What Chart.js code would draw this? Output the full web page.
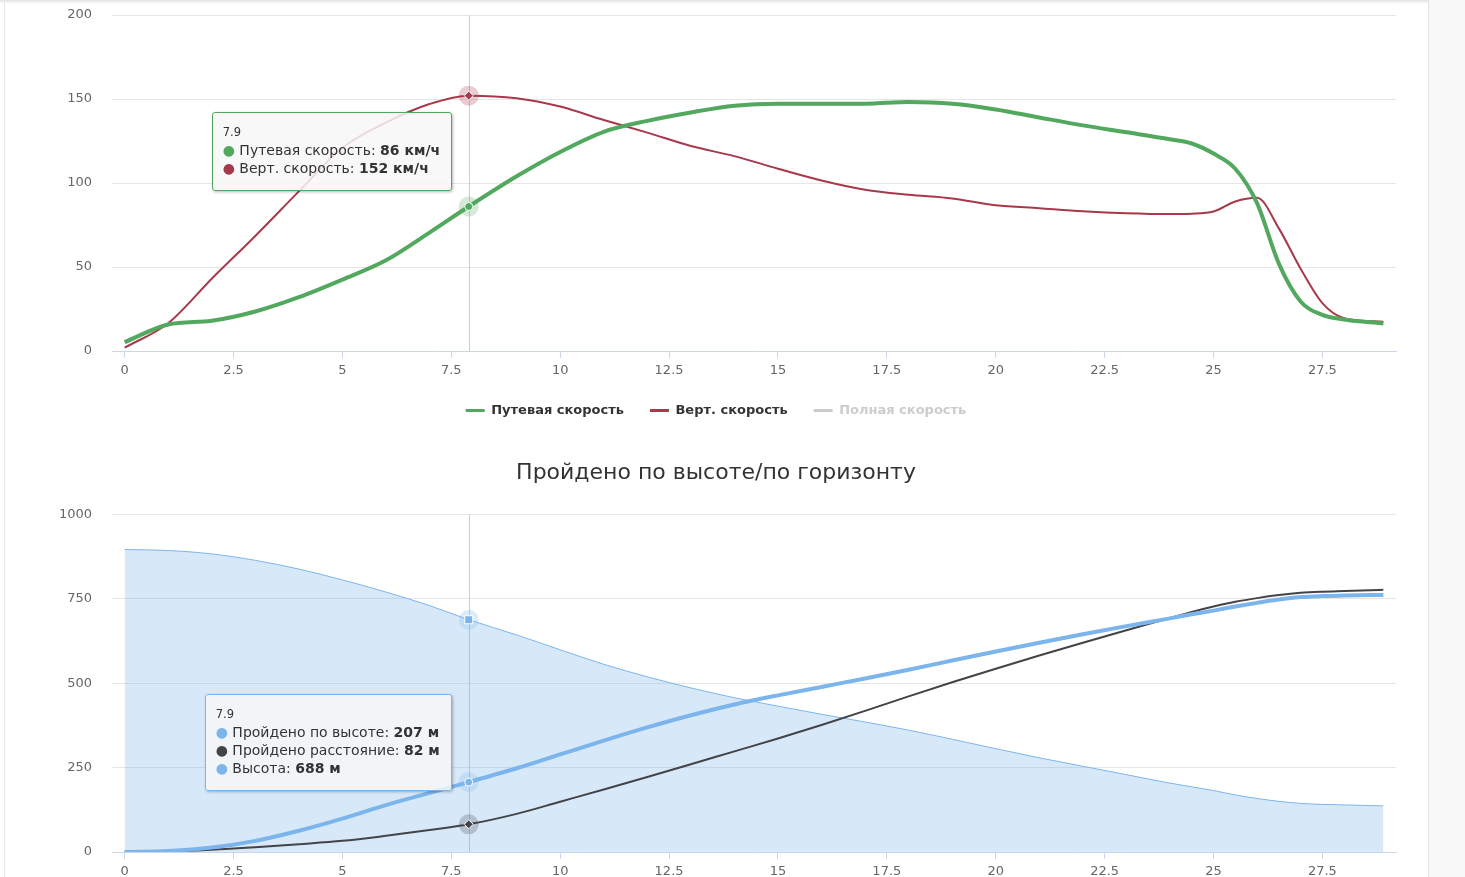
<!DOCTYPE html>
<html>
<head>
<meta charset="utf-8">
<script src="https://cdn.jsdelivr.net/npm/chart.js@4/dist/chart.umd.min.js"></script>
<style>
html, body { margin: 0; padding: 0; background: #fff; width: 1465px; height: 877px; overflow: hidden }
.topshade { position: absolute; left: 0; top: 0; width: 1428px; height: 4px; background: linear-gradient(#e2e2e2, #ffffff) }
.leftline { position: absolute; left: 4px; top: 0; width: 1px; height: 877px; background: #e9e9e9 }
.side { position: absolute; left: 1428px; top: 0; width: 37px; height: 877px; background: #f8f8f8; border-left: 1px solid #e2e2e2 }
.box { position: absolute; left: 0; width: 1428px }
#speedBox { top: 0; height: 445px }
#heightBox { top: 445px; height: 440px }
.tip { position: absolute; display: none; pointer-events: none; background: rgba(247,247,247,0.85);
  border: 1px solid #7cb5ec; border-radius: 3px; padding: 10px 11px 13px 10px; color: #333333;
  font: 14px "DejaVu Sans", sans-serif; line-height: 18px; white-space: nowrap;
  box-shadow: 1px 1px 3px rgba(0,0,0,0.28) }
.tip .hd { font-size: 11.5px; line-height: 18px }
</style>
</head>
<body>
<div class="topshade"></div>
<div class="leftline"></div>
<div class="side"></div>
<div class="box" id="speedBox"><canvas id="speed" width="1428" height="445"></canvas></div>
<div class="box" id="heightBox"><canvas id="height" width="1428" height="440"></canvas></div>
<script>
// ########## data
const seconds = [0, 1, 2, 3, 4, 5, 6, 7, 7.9, 9, 10, 11, 12, 13, 14, 15, 16, 17, 18, 19, 20, 21, 22, 23, 24, 24.5, 25, 25.5, 26, 26.5, 27, 27.5, 28, 28.9]

// км/ч
const groundSpeed = [5.3, 15.8, 18, 23.5, 32, 42.5, 54, 70.5, 86, 104, 118.5, 130.5, 137, 142, 146, 147.2, 147.2, 147.2, 148.2, 147.2, 143.8, 139, 134.3, 130.2, 126, 123.5, 117.5, 108.5, 88, 52, 29.5, 21.5, 18.8, 16.4]
const vertSpeed = [2, 16.5, 43, 68.5, 95, 121, 136, 147, 152, 150.5, 145.5, 137.5, 130, 122, 116, 108.5, 101.5, 96, 93, 90.8, 86.8, 85, 83.2, 82, 81.5, 81.7, 83, 89, 91.2, 73, 49, 28.5, 19.5, 17.4]
const fullSpeed = []

// м
const climbed = [0, 3, 13, 33, 63, 99, 139, 175, 207, 248, 289, 330, 369, 405, 437, 464, 489, 514, 540, 567, 594, 620, 645, 669, 692, 704, 715, 727, 738, 748, 755, 758, 759.5, 761.6]
const distance = [0, 2, 6.5, 14, 23, 33, 48, 65, 82, 113, 149, 185, 222, 260, 298, 336, 376, 418, 461, 503, 543, 582, 620, 657, 693, 711, 727, 741, 752, 761, 767.6, 771, 773, 776.5]
const altitude = [896, 893, 883, 864, 838, 806, 770, 730, 688, 643, 599, 556, 519, 486, 457, 432, 408, 385, 361, 334, 306, 279, 254, 229, 204, 193, 182, 169, 158.5, 150, 144, 141, 139.5, 136.5]

const xTicks = [0, 2.5, 5, 7.5, 10, 12.5, 15, 17.5, 20, 22.5, 25, 27.5]
const speedTicks = [0, 50, 100, 150, 200]
const heightTicks = [0, 250, 500, 750, 1000]
const hoverSecond = 7.9

const font = "'DejaVu Sans', sans-serif"

function pts(ys) {
  return ys.map((y, i) => ({ x: seconds[i], y: y }))
}

// ########## markers
function drawMark(ctx, style, x, y, color) {
  ctx.fillStyle = color
  ctx.strokeStyle = "#ffffff"
  ctx.lineWidth = 1
  ctx.beginPath()
  if (style === "diamond") {
    ctx.moveTo(x, y - 4.5); ctx.lineTo(x + 4.5, y); ctx.lineTo(x, y + 4.5); ctx.lineTo(x - 4.5, y); ctx.closePath()
  } else if (style === "square") {
    ctx.rect(x - 4, y - 4, 8, 8)
  } else {
    ctx.arc(x, y, 4, 0, Math.PI * 2)
  }
  ctx.fill()
  ctx.stroke()
}

const hoverMarks = {
  id: "hoverMarks",
  beforeDatasetsDraw(chart) {
    let act = chart.getActiveElements()
    if (!act.length) return
    let ctx = chart.ctx, area = chart.chartArea
    let x = Math.round(act[0].element.x) + 0.5
    ctx.save()
    ctx.strokeStyle = "#cccccc"
    ctx.lineWidth = 1
    ctx.beginPath()
    ctx.moveTo(x, area.top)
    ctx.lineTo(x, area.bottom)
    ctx.stroke()
    ctx.restore()
  },
  afterDatasetsDraw(chart) {
    let ctx = chart.ctx
    ctx.save()
    chart.getActiveElements().forEach(a => {
      let ds = chart.data.datasets[a.datasetIndex]
      let el = a.element
      ctx.fillStyle = ds.haloColor
      ctx.beginPath()
      ctx.arc(el.x, el.y, 10, 0, Math.PI * 2)
      ctx.fill()
      drawMark(ctx, ds.markStyle, el.x, el.y, ds.tipColor)
    })
    ctx.restore()
  }
}

// ########## tooltip (html, so the values can be bold)
function externalTip(units, borderColor) {
  return function(context) {
    let chart = context.chart
    let tip = context.tooltip
    let box = chart.canvas.parentNode
    let el = box.querySelector(".tip")
    if (!el) {
      el = document.createElement("div")
      el.className = "tip"
      box.appendChild(el)
    }
    if (tip.opacity === 0 || !tip.dataPoints || !tip.dataPoints.length) {
      el.style.display = "none"
      return
    }
    let list = tip.dataPoints.slice().sort((a, b) => a.datasetIndex - b.datasetIndex)
    let html = '<div class="hd">' + list[0].parsed.x + "</div>"
    list.forEach(p => {
      html += '<div><span style="color:' + p.dataset.tipColor + '">\u25CF</span> ' + p.dataset.label +
        ": <b>" + Math.round(p.parsed.y) + " " + units + "</b></div>"
    })
    el.innerHTML = html
    el.style.display = "block"
    el.style.borderColor = borderColor
    el.style.left = (tip.caretX - 17 - el.offsetWidth) + "px"
    el.style.top = (tip.caretY - el.offsetHeight / 2) + "px"
  }
}

function xScale() {
  return {
    type: "linear",
    min: -0.29,
    max: 29.19,
    afterBuildTicks: s => { s.ticks = xTicks.map(v => ({ value: v })) },
    afterFit: s => { s.height = 27 },
    ticks: { color: "#666666", font: { family: font, size: 13 }, padding: 5, maxRotation: 0, autoSkip: false, callback: v => String(v) },
    grid: { drawOnChartArea: false, drawTicks: true, tickLength: 7, color: "#ccd6eb", lineWidth: 1 },
    border: { color: "#ccd6eb", width: 1 }
  }
}

function yScale(ticks) {
  return {
    min: ticks[0],
    max: ticks[ticks.length - 1],
    afterBuildTicks: s => { s.ticks = ticks.map(v => ({ value: v })) },
    // label padding would otherwise be added above and below the plot
    afterFit: s => { s.width = 76; s.paddingTop = 8; s.paddingBottom = 8 },
    ticks: { color: "#666666", font: { family: font, size: 13 }, padding: 20, callback: v => String(v) },
    grid: { color: "#e6e6e6", lineWidth: 1, drawTicks: false },
    border: { display: false }
  }
}

function activate(chart, datasets) {
  let idx = seconds.indexOf(hoverSecond)
  let act = datasets.map(d => ({ datasetIndex: d, index: idx }))
  chart.setActiveElements(act)
  chart.tooltip.setActiveElements(act, { x: 0, y: 0 })
  chart.update()
}

Chart.defaults.font.family = font

//########## speed chart
const speedChart = new Chart(document.getElementById("speed"), {
  type: "line",
  data: {
    datasets: [
      { label: "Путевая скорость", data: pts(groundSpeed), borderColor: "#52a85e", borderWidth: 4,
        tipColor: "#52a85e", haloColor: "rgba(82,168,94,0.25)", markStyle: "circle" },
      { label: "Верт. скорость", data: pts(vertSpeed), borderColor: "#a6394b", borderWidth: 2,
        tipColor: "#a6394b", haloColor: "rgba(166,57,75,0.25)", markStyle: "diamond" },
      { label: "Полная скорость", data: fullSpeed, borderColor: "#cccccc", hidden: true, legendOff: true }
    ]
  },
  options: {
    responsive: false,
    animation: false,
    events: [],
    devicePixelRatio: 1,
    layout: { padding: { left: 36, right: 32, top: 15, bottom: 18 } },
    elements: { point: { radius: 0, hoverRadius: 0 }, line: { cubicInterpolationMode: "monotone", fill: false } },
    scales: { x: xScale(), y: yScale(speedTicks) },
    plugins: {
      legend: {
        position: "bottom",
        labels: {
          boxWidth: 19, boxHeight: 3, padding: 26,
          font: { family: font, size: 13, weight: "bold" },
          generateLabels: chart => chart.data.datasets.map((ds, i) => ({
            text: ds.label,
            fillStyle: ds.legendOff ? "#cccccc" : ds.borderColor,
            strokeStyle: ds.legendOff ? "#cccccc" : ds.borderColor,
            lineWidth: 0,
            hidden: false,
            fontColor: ds.legendOff ? "#cccccc" : "#333333",
            datasetIndex: i
          }))
        }
      },
      tooltip: { enabled: false, position: "average", external: externalTip("км/ч", "#52a85e") }
    }
  },
  plugins: [hoverMarks]
})
activate(speedChart, [0, 1])

//########## height chart
const heightChart = new Chart(document.getElementById("height"), {
  type: "line",
  data: {
    datasets: [
      { label: "Пройдено по высоте", data: pts(climbed), borderColor: "#7cb5ec", borderWidth: 4, fill: false,
        tipColor: "#7cb5ec", haloColor: "rgba(124,181,236,0.25)", markStyle: "circle" },
      { label: "Пройдено расстояние", data: pts(distance), borderColor: "#434348", borderWidth: 2, fill: false,
        tipColor: "#434348", haloColor: "rgba(67,67,72,0.25)", markStyle: "diamond" },
      { label: "Высота", data: pts(altitude), borderColor: "#7cb5ec", borderWidth: 1, fill: "origin",
        backgroundColor: "rgba(124,181,236,0.3)", order: 1,
        tipColor: "#7cb5ec", haloColor: "rgba(124,181,236,0.25)", markStyle: "square" }
    ]
  },
  options: {
    responsive: false,
    animation: false,
    events: [],
    devicePixelRatio: 1,
    layout: { padding: { left: 36, right: 32, top: 0, bottom: 6 } },
    elements: { point: { radius: 0, hoverRadius: 0 }, line: { cubicInterpolationMode: "monotone" } },
    scales: { x: xScale(), y: yScale(heightTicks) },
    plugins: {
      legend: { display: false },
      title: {
        display: true,
        text: "Пройдено по высоте/по горизонту",
        color: "#333333",
        font: { family: font, size: 22, weight: "normal" },
        padding: { top: 15, bottom: 28 }
      },
      tooltip: { enabled: false, position: "average", external: externalTip("м", "#7cb5ec") }
    }
  },
  plugins: [hoverMarks]
})
activate(heightChart, [0, 1, 2])
</script>
</body>
</html>
